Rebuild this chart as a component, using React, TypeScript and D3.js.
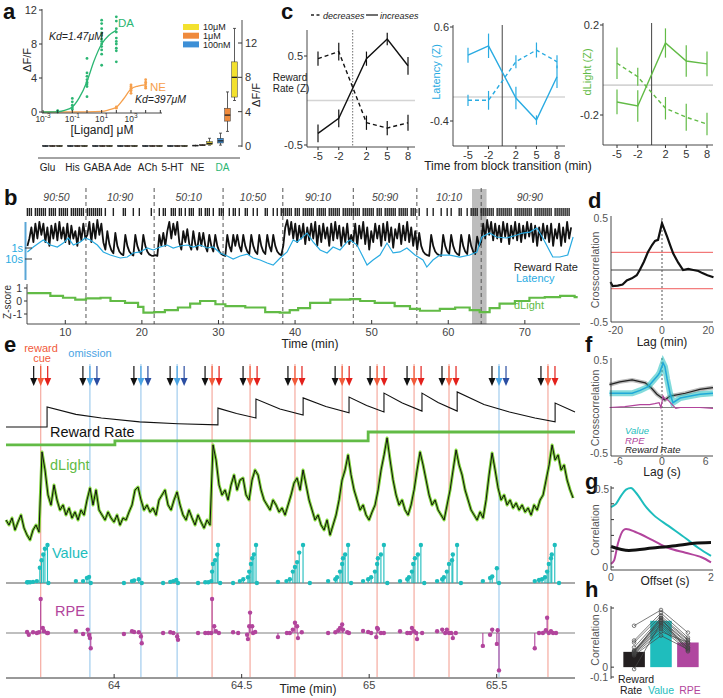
import React from "react";
import * as d3 from "d3";

const FONT = "'Liberation Sans', Arial, Helvetica, sans-serif";
const W = 723;
const H = 698;

// colours
const DA_GREEN = "#2bb673";
const NE_ORANGE = "#f6a04d";
const C10 = "#f3e12e";
const C1 = "#ef8a3c";
const C100 = "#3d8fd6";
const LAT_BLUE = "#29abe2";
const DL_GREEN = "#62bb46";
const CYAN = "#1dbdbd";
const MAGENTA = "#b2449c";
const CUE_RED = "#f15a3a";
const REW_RED = "#e3201b";
const OMIT_BLUE = "#4aa3e3";
const OMIT_DARK = "#2b4ea2";
const LINE_RED = "#f6b1a7";
const LINE_BLUE = "#a8d0ef";

// ---------------- panel a ----------------
const ligands = ["Glu", "His", "GABA", "Ade", "ACh", "5-HT", "NE", "DA"];
// [min, q1, median, q3, max] of dF/F
const box100nM = [
  [-0.1, -0.05, 0, 0.05, 0.1], [-0.1, -0.05, 0, 0.05, 0.1], [-0.1, -0.05, 0, 0.05, 0.1], [-0.1, -0.05, 0, 0.05, 0.1],
  [-0.1, -0.05, 0, 0.05, 0.1], [-0.1, -0.05, 0, 0.05, 0.1], [-0.05, 0, 0.05, 0.1, 0.15], [0.1, 0.35, 0.6, 0.9, 1.5],
];
const box1uM = [
  [-0.1, -0.05, 0, 0.05, 0.1], [-0.1, -0.05, 0, 0.05, 0.1], [-0.1, -0.05, 0, 0.05, 0.1], [-0.1, -0.05, 0, 0.05, 0.1],
  [-0.1, -0.05, 0, 0.05, 0.1], [-0.1, -0.05, 0, 0.05, 0.1], [0, 0.05, 0.1, 0.15, 0.2], [1.7, 2.9, 3.6, 4.4, 6.3],
];
const box10uM = [
  [-0.1, -0.05, 0, 0.05, 0.1], [-0.1, -0.05, 0, 0.05, 0.1], [-0.1, -0.05, 0, 0.05, 0.1], [-0.1, -0.05, 0, 0.05, 0.1],
  [-0.1, -0.05, 0, 0.05, 0.1], [-0.1, -0.05, 0, 0.05, 0.1], [0.1, 0.15, 0.3, 0.5, 0.9], [5.3, 5.7, 8.0, 9.8, 13.7],
];
const legendConc = ["10μM", "1μM", "100nM"];
const daDoses = [0.01, 0.1, 1, 10, 100];
const daResp = [
  [0, 0.05, 0.1, 0.15],
  [0.3, 0.5, 0.8, 1.2, 1.6],
  [1.8, 3.0, 3.3, 3.5, 3.8, 4.2, 4.6, 6.3],
  [5.5, 6.8, 7.3, 7.7, 8.0, 8.3, 8.6, 9.0, 9.3, 9.8, 10.4, 10.8],
  [5.9, 7.2, 7.5, 8.0, 8.3, 8.7, 9.4, 9.8, 10.7, 11.2],
];
const neDoses = [100, 1000, 10000];
const neResp = [[0.45, 0.6], [2.2, 2.5, 2.6, 2.8, 3.0, 3.2], [2.8, 3.0, 3.3, 3.5, 3.8]];
const daFitConc = [1e-3, 1e-2, 3e-2, 0.1, 0.3, 1, 3, 10, 30, 100];
const daFitResp = [0, 0.05, 0.2, 0.6, 1.7, 3.6, 6.0, 8.0, 9.0, 9.6];
const neFitConc = [1e-3, 1, 10, 30, 100, 300, 1000, 3000, 10000];
const neFitResp = [0, 0.02, 0.08, 0.25, 0.55, 1.5, 2.7, 3.05, 3.2];

// ---------------- panel c ----------------
const cTimes = [-5, -2, 2, 5, 8];
const rrIncMean = [-0.37, -0.2, 0.47, 0.69, 0.39];
const rrIncErr = [0.1, 0.1, 0.08, 0.07, 0.1];
const rrDecMean = [0.47, 0.55, -0.25, -0.31, -0.25];
const rrDecErr = [0.08, 0.1, 0.08, 0.08, 0.09];
const latIncMean = [0.3, 0.4, -0.155, -0.39, 0.07];
const latIncErr = [0.08, 0.13, 0.12, 0.05, 0.12];
const latDecMean = [-0.18, -0.18, 0.23, 0.355, 0.23];
const latDecErr = [0.06, 0.1, 0.07, 0.08, 0.07];
const dlIncMean = [-0.142, -0.16, 0.12, 0.04, 0.027];
const dlIncErr = [0.055, 0.07, 0.065, 0.07, 0.055];
const dlDecMean = [0.03, -0.03, -0.17, -0.21, -0.24];
const dlDecErr = [0.07, 0.04, 0.05, 0.06, 0.05];
const cRefLevels = [0, -0.145, -0.067];

// ---------------- panel b ----------------
const BIN_T0 = 5.05;
const BIN_DT = 0.261;
const rasterB =
  "|||.||||||.||||.|||||.|||||||." +
  "||||||||.|...|....||...|..|.....|." +
  "..|.||..|||.||.|.|||..||.|||.|..||" +
  "|..|.||.|..||..|.|...||..|.|.|" +
  "|||||.|||.||||||.|||||.||||||.|||||" +
  "||||.||||||.|||.||||||.|||||.|||" +
  ".|...|..|...|..|.|...||..|.||||." +
  "|||||||.||||||||.|||||||||.|||||||||.||||||||.";
const rewardRateB = [
  0.3, 0.5, 0.8, 0.4, 0.9, 0.5, 0.95, 0.6, 0.9, 0.4, 0.8, 0.3, 0.85, 0.5, 0.9, 0.45, 0.95, 0.5, 0.8, 0.4, 0.9, 0.35, 0.85, 0.5, 0.7, 0.3, 0.8, 0.45, 0.9, 0.5,
  0.6, 0.95, 0.4, 0.9, 0.5, 1.0, 0.6, 0.9, 0.4, 0.2, 0.7, 0.35, 0.18, 0.1, 0.65, 0.3, 0.15, 0.08, 0.05, 0.6, 0.3, 0.15, 0.08, 0.04, 0.6, 0.3, 0.15, 0.08, 0.6, 0.3, 0.15, 0.07, 0.04, 0.03,
  0.05, 0.03, 0.6, 0.3, 0.65, 0.3, 0.7, 0.95, 0.5, 0.9, 0.6, 0.95, 0.4, 0.2, 0.7, 0.4, 0.75, 0.35, 0.2, 0.7, 0.35, 0.2, 0.65, 0.3, 0.65, 0.3, 0.15, 0.6, 0.3, 0.15, 0.6, 0.3, 0.15, 0.08,
  0.05, 0.03, 0.6, 0.3, 0.15, 0.6, 0.3, 0.6, 0.3, 0.15, 0.6, 0.3, 0.15, 0.08, 0.6, 0.3, 0.15, 0.08, 0.6, 0.3, 0.15, 0.08, 0.6, 0.3, 0.15, 0.6, 0.3, 0.15, 0.08, 0.05,
  0.3, 0.8, 1.0, 0.6, 0.95, 0.5, 0.9, 0.4, 0.85, 0.5, 0.9, 0.35, 0.8, 0.45, 0.9, 0.5, 0.95, 0.3, 0.85, 0.4, 0.9, 0.5, 0.8, 0.3, 0.9, 0.45, 0.95, 0.5, 0.85, 0.3, 0.8, 0.4, 0.9, 0.35, 0.6,
  0.4, 0.9, 0.3, 0.85, 0.5, 0.95, 0.35, 0.8, 0.2, 0.7, 0.4, 0.9, 0.5, 0.85, 0.3, 0.9, 0.45, 0.95, 0.4, 0.8, 0.25, 0.75, 0.5, 0.9, 0.35, 0.85, 0.45, 0.95, 0.4, 0.8, 0.3, 0.7,
  0.2, 0.65, 0.3, 0.15, 0.08, 0.05, 0.03, 0.6, 0.3, 0.15, 0.08, 0.05, 0.03, 0.6, 0.3, 0.15, 0.08, 0.6, 0.3, 0.15, 0.08, 0.05, 0.6, 0.3, 0.15, 0.08, 0.6, 0.3, 0.15, 0.08, 0.55, 0.3,
  0.4, 0.9, 0.5, 1.0, 0.6, 0.95, 0.45, 0.9, 0.5, 0.85, 0.4, 0.95, 0.55, 0.9, 0.35, 0.85, 0.5, 0.95, 0.45, 0.9, 0.4, 0.85, 0.5, 0.95, 0.55, 0.9, 0.4, 0.85, 0.3, 0.8, 0.45, 0.9, 0.5, 0.85, 0.4, 0.9, 0.3, 0.75, 0.5, 0.9, 0.3, 0.8, 0.4, 0.95, 0.5, 0.8,
];
// latency, log10 seconds
const latencyBTimes = [
  5.05, 5.83, 6.74, 7.13, 8.05, 8.96, 9.74, 10.4, 11.05, 11.96, 12.6, 13.26, 14.18, 14.96, 15.87, 17.18, 18.09, 18.87, 19.79, 20.7,
  21.48, 22.4, 23.3, 24.09, 25.0, 25.92, 26.7, 27.61, 28.53, 29.31, 30.22, 31.14, 31.92, 32.83, 33.75, 34.53, 35.44, 36.36, 37.14, 38.05,
  38.96, 39.75, 40.27, 41.57, 42.35, 43.27, 44.18, 44.96, 45.87, 46.79, 47.18, 48.09, 49.4, 50.18, 51.09, 52.0, 52.8, 53.7, 54.6, 55.65,
  56.7, 57.2, 58.0, 58.9, 60.2, 61.5, 62.8, 63.74, 64.39, 65.4, 66.3, 67.6, 68.96, 69.74, 70.65, 71.57, 72.35, 73.65, 74.57, 75.6, 76.3,
];
const latencyBLog = [
  0.36, -0.09, -0.55, -0.73, -0.27, -0.09, -0.45, -0.91, -0.27, -0.55, -0.91, -0.73, -0.27, 0.36, 0.64, 0.91, 0.82, 0.45, 0.36, 0,
  0.18, -0.09, -0.27, 0, -0.18, -0.27, -0.09, -0.27, 0, -0.09, 0.45, 0.73, 1.0, 0.73, 0.55, 0.91, 1.09, 1.36, 1.55, 0.91,
  0.36, -0.73, -0.55, -1.36, -0.55, 0.18, 0.45, -0.09, 0.18, -0.55, -0.73, -0.27, 1.55, 1.09, 0.64, -0.45, 0.45, 0.36, 0, 0.64,
  1.09, 1.73, 1.09, 0.64, 0.64, 0.82, 0.64, 0.36, -1.0, -1.36, -1.0, -0.91, -1.18, -1.36, -1.45, -1.82, -0.91, 0.82, 0.82, 0.64, -1.0,
];
const dlightBTimes = [
  5.05, 8.05, 9.7, 11.3, 12.7, 14.6, 15.9, 17.8, 19.5, 20.2, 21.6, 23.0, 24.7, 26.3, 27.6, 29.6, 30.9, 33.5, 36.1, 38.0,
  39.3, 40.4, 41.96, 44.6, 47.2, 48.5, 50.4, 53.0, 55.0, 56.3, 58.9, 60.9, 62.8, 64.1, 65.4, 66.7, 68.7, 70.6, 72.6, 74.6, 76.5,
];
const dlightBZ = [
  0.6, 0.4, 0.25, 0.1, 0.2, 0.25, 0.0, -0.15, -0.45, -0.9, -0.85, -0.7, -0.5, -0.2, 0.0, -0.25, -0.4, -0.5, -0.85, -0.9,
  -0.7, -0.55, -0.15, 0.1, 0.15, 0.0, -0.15, -0.4, -0.6, -0.75, -0.6, -0.5, -0.7, -0.85, -0.55, -0.2, 0.0, 0.25, 0.3, 0.4, 0.3,
];
const blockEdgesB = [12.7, 21.6, 30.6, 38.4, 47.6, 55.9, 64.3];
const blockNamesB = ["90:50", "10:90", "50:10", "10:50", "90:10", "50:90", "10:10", "90:90"];
const shadeB = [63.1, 65.0];
const timeTicksB = [10, 20, 30, 40, 50, 60, 70];

// ---------------- panel d ----------------
const dLag = [-22.2, -21.3, -19.1, -17.0, -15.2, -13.0, -10.9, -9.6, -7.8, -6.1, -4.3, -3.0, -1.7, 0, 2.2, 3.5, 4.8, 7.0, 9.1, 11.3, 13.5, 15.7, 17.4, 19.6, 22.2];
const dCorr = [-0.115, -0.155, -0.15, -0.14, -0.1, -0.08, -0.05, 0, 0.08, 0.17, 0.24, 0.28, 0.29, 0.45, 0.32, 0.24, 0.16, 0.07, 0, 0.01, 0, -0.01, -0.03, -0.05, -0.07];
const dSignif = [0.17, -0.18];

// ---------------- panel e ----------------
const trialTimesE = [63.712, 63.905, 64.105, 64.247, 64.384, 64.533, 64.709, 64.894, 65.031, 65.176, 65.313, 65.509, 65.701];
const trialRewardedE = [true, false, false, false, true, true, true, true, true, true, true, false, true];
// [seconds from trial, model value]
const valueEventsE = [
  [[-3.2, 0.02], [-3, 0.02], [-2.5, 0.02], [-1.8, 0.03], [-0.9, 0.05], [-0.2, 0.4], [0.2, 0.6], [0.6, 0.75], [1.0, 0.9], [1.6, 1.0], [1.8, 0]],
  [[-3.3, 0.05], [-1.6, 0.05], [-0.7, 0.13], [-0.2, 0.16], [0.2, 0]],
  [[-4.0, 0], [-2.1, 0.05], [-1.6, 0.07], [-0.5, 0.1], [0.2, 0]],
  [[-3.3, 0], [-1.6, 0.03], [-0.9, 0.05], [-0.2, 0.08], [0.2, 0]],
  [[-3.3, 0], [-1.6, 0.02], [-0.9, 0.02], [-0.2, 0.05], [0, 0.3], [0.2, 0.5], [0.7, 0.6], [1.2, 0.75], [1.4, 1.0], [1.9, 0]],
  [[-4.0, 0], [-2.4, 0.05], [-1.6, 0.1], [-0.5, 0.15], [-0.2, 0.3], [0.2, 0.5], [0.5, 0.65], [0.9, 0.75], [1.4, 1.0], [1.6, 0]],
  [[-4.0, 0.03], [-2.0, 0.05], [-1.2, 0.1], [-0.5, 0.3], [0, 0.42], [0.5, 0.55], [1.0, 0.8], [1.9, 1.0], [3.5, 0]],
  [[-3.3, 0.05], [-1.6, 0.1], [-1.2, 0.15], [-0.5, 0.3], [0, 0.5], [0.2, 0.65], [0.7, 0.75], [1.4, 1.0], [2.1, 0]],
  [[-3.3, 0.05], [-2.1, 0.1], [-1.4, 0.15], [-0.5, 0.3], [0, 0.5], [0.2, 0.65], [0.9, 0.75], [1.6, 1.0], [2.4, 0]],
  [[-3.3, 0.05], [-1.6, 0.1], [-1.2, 0.15], [-0.5, 0.3], [-0.2, 0.5], [0.2, 0.65], [0.9, 0.75], [1.6, 1.0], [2.4, 0]],
  [[-2.8, 0.05], [-1.6, 0.1], [-1.2, 0.15], [-0.5, 0.3], [0, 0.5], [0.7, 0.6], [0.9, 0.75], [1.9, 1.0], [2.8, 0]],
  [[-3.8, 0.05], [-2.1, 0.13], [-1.6, 0.17], [-0.5, 0.39], [0, 0]],
  [[-3.1, 0.05], [-2.1, 0.08], [-1.4, 0.1], [-0.7, 0.15], [-0.2, 0.3], [0.2, 0.5], [0.7, 0.65], [0.9, 0.75], [1.6, 1.0], [2.6, 0]],
];
const rpeEventsE = [
  [[-3.2, 0.03], [-2.8, -0.05], [-1.8, 0.02], [-0.9, 0], [-0.4, 0.02], [0, 1.0], [0.5, 0.15], [0.8, 0.05], [1.5, 0], [1.7, 0]],
  [[-3.3, 0.05], [-1.6, -0.03], [-0.5, 0.1], [-0.2, -0.06], [0, -0.15], [0.2, -0.45]],
  [[-4.0, -0.03], [-2.1, 0.05], [-1.6, 0.03], [-0.5, 0.02], [0, -0.1], [0.2, -0.3]],
  [[-3.3, 0], [-1.6, 0.02], [-0.9, 0], [0, -0.1], [0.2, -0.2]],
  [[-3.3, 0], [-1.6, 0], [-0.9, 0], [-0.2, 0], [0, 1.0], [0.5, 0.2], [0.9, 0.05], [1.6, 0]],
  [[-4.0, 0.02], [-2.8, 0], [-0.7, -0.05], [-0.5, -0.18], [-0.2, 0.2], [0, 0.6], [0.5, 0.2], [0.7, 0], [1.2, 0.03]],
  [[-4.0, -0.12], [-1.9, 0], [-1.2, 0], [-0.5, 0.1], [0, 0.3], [0.5, 0.2], [0.7, -0.15], [1.6, 0.02]],
  [[-3.3, 0], [-1.6, 0.02], [-0.9, 0.08], [-0.5, 0.15], [0, 0.25], [0.2, 0.1], [1.2, 0.02], [1.6, 0]],
  [[-3.3, 0.06], [-2.1, 0.03], [-1.4, 0], [-0.2, -0.12], [0, 0.15], [0.2, 0.12], [0.9, 0], [1.6, 0]],
  [[-3.3, 0.05], [-1.6, 0], [-0.9, 0], [-0.5, 0.15], [0, 0.05], [0.5, 0], [0.7, -0.18], [1.9, 0]],
  [[-2.8, 0.05], [-1.6, 0.1], [-0.9, 0], [-0.5, 0.1], [0, 0], [0.5, 0], [0.9, -0.15], [1.6, 0]],
  [[-3.8, -0.38], [-2.1, -0.05], [-1.6, 0.1], [-0.5, -0.32], [-0.3, 0.08], [0, -1.1]],
  [[-3.1, -0.45], [-2.1, 0], [-1.2, 0], [-0.5, 0.08], [-0.2, 0.45], [0.2, 0], [0.7, 0.05], [1.2, 0], [1.9, 0]],
];
const rrETimes = [
  63.576, 63.737, 63.737, 63.85, 63.95, 64.1, 64.25, 64.407, 64.407, 64.48, 64.556, 64.556, 64.65, 64.741, 64.741, 64.83, 64.921,
  64.921, 64.99, 65.058, 65.058, 65.13, 65.207, 65.207, 65.27, 65.345, 65.345, 65.45, 65.55, 65.65, 65.729, 65.729, 65.807,
];
const rrEValues = [
  0, 0, 0.67, 0.42, 0.3, 0.17, 0.11, 0.07, 0.63, 0.45, 0.3, 0.93, 0.6, 0.4, 0.97, 0.68, 0.47,
  1.0, 0.72, 0.5, 1.13, 0.8, 0.53, 1.13, 0.82, 0.53, 1.17, 0.75, 0.5, 0.3, 0.17, 0.8, 0.5,
];
const blockTimesE = [63.576, 64.003, 64.996, 65.807];
const blockLevelsE = [0.2, 0.45, 1.0];
const DL_E_T0 = 63.576;
const DL_E_DT = 0.011765;
const dlightE = [
  0.2, 0.15, 0.22, 0.1, 0.18, 0.25, 0.12, 0.05, 0.0, 0.1, 0.15, 0.08,
  0.88, 0.7, 0.45, 0.35, 0.55, 0.4, 0.3, 0.35, 0.25, 0.32,
  0.22, 0.28, 0.2, 0.3, 0.25, 0.4, 0.52, 0.35, 0.5, 0.3,
  0.25, 0.2, 0.28, 0.22, 0.18, 0.25, 0.15, 0.22, 0.2, 0.28,
  0.35, 0.5, 0.53, 0.4, 0.3, 0.35, 0.28, 0.32, 0.25, 0.4,
  0.45, 0.5, 0.35, 0.3, 0.4, 0.48, 0.35, 0.25, 0.2, 0.3,
  0.22, 0.15, 0.25, 0.18, 0.12, 0.2, 0.15, 0.95, 0.8, 0.55,
  0.45, 0.5, 0.4, 0.55, 0.65, 0.5, 0.6, 0.62, 0.45, 0.4,
  0.6, 0.7, 0.65, 0.5, 0.4, 0.35, 0.3, 0.4, 0.35, 0.28,
  0.32, 0.25, 0.35, 0.45, 0.57, 0.62, 0.5, 0.7, 0.55, 0.4,
  0.3, 0.2, 0.25, 0.15, 0.1, 0.2, 0.05, 0.15, 0.25, 0.4,
  0.6, 0.7, 0.85, 0.65, 0.5, 0.4, 0.3, 0.35, 0.25, 0.2,
  0.28, 0.35, 0.5, 0.7, 0.85, 1.02, 0.8, 0.6, 0.45, 0.35,
  0.4, 0.3, 0.25, 0.35, 0.5, 0.7, 0.88, 0.75, 0.6, 0.45,
  0.35, 0.4, 0.3, 0.25, 0.2, 0.35, 0.5, 0.7, 0.9, 0.75,
  0.65, 0.5, 0.4, 0.3, 0.25, 0.2, 0.28, 0.22, 0.4, 0.65,
  0.87, 0.7, 0.52, 0.4, 0.45, 0.35, 0.4, 0.32, 0.37, 0.3,
  0.35, 0.28, 0.32, 0.25, 0.35, 0.3, 0.4, 0.45, 0.6, 0.75,
  0.95, 0.8, 0.85, 0.7, 0.75, 0.6, 0.5, 0.42,
];
const timeTicksE = [64, 64.5, 65, 65.5];

// ---------------- panel f ----------------
const fRRLag = [-7.2, -5.8, -4.1, -2.3, -1.4, -0.7, 0, 0.4, 1.1, 3.2, 5.2, 7.0];
const fRRVal = [0.24, 0.27, 0.29, 0.26, 0.2, 0.14, 0.1, 0.08, 0.12, 0.15, 0.19, 0.21];
const fValueLag = [-7.2, -5.8, -4.1, -3.0, -1.9, -1.0, -0.55, -0.3, 0.15, 0.4, 0.7, 1.1, 1.5, 2.1, 2.5, 3.9, 5.2, 7.0];
const fValueVal = [0.15, 0.15, 0.15, 0.18, 0.22, 0.3, 0.34, 0.37, 0.47, 0.43, 0.3, 0.15, 0.05, 0.08, 0.1, 0.12, 0.14, 0.15];
const fRpeLag = [-7.2, -5.1, -3.0, -1.7, -1.0, -0.4, -0.15, 0.15, 0.4, 0.8, 1.4, 1.9, 2.5, 3.9, 5.2, 7.0];
const fRpeVal = [0.0, 0.01, 0.03, 0.03, 0.04, 0.05, 0.0, 0.12, 0.09, 0.08, 0.03, -0.01, 0.0, 0.0, 0.0, -0.01];

// ---------------- panel g ----------------
const gValueOff = [0, 0.1, 0.2, 0.3, 0.4, 0.5, 0.7, 0.85, 1.15, 1.5, 1.75, 2.0];
const gValueVal = [0.38, 0.4, 0.45, 0.49, 0.5, 0.47, 0.38, 0.33, 0.26, 0.18, 0.12, 0.07];
const gRpeOff = [0, 0.06, 0.14, 0.24, 0.3, 0.5, 0.83, 1.15, 1.49, 1.82, 2.0];
const gRpeVal = [0.02, 0.04, 0.15, 0.23, 0.24, 0.22, 0.17, 0.12, 0.09, 0.06, 0.03];
const gRROff = [0, 0.36, 0.83, 1.29, 1.66, 2.0];
const gRRVal = [0.13, 0.105, 0.12, 0.135, 0.15, 0.155];

// ---------------- panel h ----------------
const hCats = ["Reward Rate", "Value", "RPE"];
const hMeans = [0.155, 0.47, 0.25];
const hSubjRR = [0.42, 0.27, 0.25, 0.2, 0.17, 0.16, 0.16, 0.15, 0.14, 0.14, 0.13, 0.12, -0.02, 0.15];
const hSubjValue = [0.58, 0.55, 0.52, 0.5, 0.48, 0.47, 0.45, 0.43, 0.41, 0.39, 0.36, 0.32, 0.45, 0.5];
const hSubjRPE = [0.35, 0.3, 0.28, 0.27, 0.25, 0.24, 0.22, 0.2, 0.19, 0.17, 0.25, 0.18, 0.2, 0.16];

const Letter = ({ x, y, t }: { x: number; y: number; t: string }) => (
  <text x={x} y={y} fontSize={22} fontWeight="bold" fill="#111">{t}</text>
);

function PanelA() {
  const xI = d3.scaleLog().domain([1e-3, 1.3e5]).range([43, 162]);
  const yI = d3.scaleLinear().domain([0, 12]).range([112, 10]);
  const fit = d3.line<number[]>().x((d) => xI(d[0])).y((d) => yI(d[1])).curve(d3.curveMonotoneX);
  const xL = d3.scaleBand<string>().domain(ligands).range([40, 240]);
  const yB = d3.scaleLinear().domain([0, 12]).range([146, 43]);
  const sets = [box100nM, box1uM, box10uM];
  const setCols = [C100, C1, C10];
  const offs = [-7, 0, 7];
  const legendCols = [C10, C1, C100];
  const decades = d3.range(-3, 6);
  return (
    <g>
      <Letter x={3} y={19} t="a" />
      {/* inset dose response */}
      <path d={fit(neFitConc.map((c, i) => [c, neFitResp[i]])) || ""} fill="none" stroke={NE_ORANGE} strokeWidth={1.3} />
      <path d={fit(daFitConc.map((c, i) => [c, daFitResp[i]])) || ""} fill="none" stroke={DA_GREEN} strokeWidth={1.3} />
      {daDoses.map((c, i) => daResp[i].map((v, j) => (
        <circle key={`da${i}-${j}`} cx={xI(c)} cy={yI(v)} r={1.4} fill={DA_GREEN} />
      )))}
      {neDoses.map((c, i) => neResp[i].map((v, j) => (
        <circle key={`ne${i}-${j}`} cx={xI(c)} cy={yI(v)} r={1.4} fill={NE_ORANGE} />
      )))}
      <line x1={42} x2={42} y1={9} y2={113} stroke="#333" strokeWidth={0.9} />
      <line x1={42} x2={162} y1={113} y2={113} stroke="#333" strokeWidth={0.9} />
      {[0, 4, 8, 12].map((t) => (
        <g key={t}>
          <line x1={39} x2={42} y1={yI(t)} y2={yI(t)} stroke="#333" />
          <text x={37} y={yI(t) + 4} fontSize={11} textAnchor="end" fill="#333">{t}</text>
        </g>
      ))}
      {decades.map((k) => (
        <line key={k} x1={xI(Math.pow(10, k))} x2={xI(Math.pow(10, k))} y1={110} y2={113} stroke="#333" />
      ))}
      {[-3, -1, 1, 3].map((k) => (
        <text key={k} x={xI(Math.pow(10, k))} y={122} fontSize={8.5} textAnchor="middle" fill="#333">
          10<tspan dy={-4} fontSize={6.5}>{k}</tspan>
        </text>
      ))}
      <text x={102} y={134} fontSize={12} textAnchor="middle" fill="#222">[Ligand] μM</text>
      <text transform="translate(31,60) rotate(-90)" fontSize={11} textAnchor="middle" fill="#222">ΔF/F</text>
      <text x={49} y={40} fontSize={10.5} fontStyle="italic" fill="#222">Kd=1.47μM</text>
      <text x={118} y={27} fontSize={11.5} fill={DA_GREEN}>DA</text>
      <text x={150} y={91} fontSize={11.5} fill={NE_ORANGE}>NE</text>
      <text x={135} y={103} fontSize={10.5} fontStyle="italic" fill="#222">Kd=397μM</text>
      {/* legend */}
      {legendConc.map((n, i) => (
        <g key={n}>
          <rect x={183} y={24 + i * 8.7} width={16} height={6} fill={legendCols[i]} />
          <text x={203} y={30.2 + i * 8.7} fontSize={9} fill="#222">{n}</text>
        </g>
      ))}
      {/* boxes */}
      {ligands.map((lig, li) => sets.map((set, ci) => {
        const [mn, q1, md, q3, mx] = set[li];
        const cx = (xL(lig) as number) + xL.bandwidth() / 2 + offs[ci];
        const big = mx - mn > 0.5;
        return (
          <g key={`${lig}${ci}`}>
            <line x1={cx} x2={cx} y1={yB(mn)} y2={yB(mx)} stroke="#333" strokeWidth={0.8} />
            {big && <line x1={cx - 1.5} x2={cx + 1.5} y1={yB(mx)} y2={yB(mx)} stroke="#333" strokeWidth={0.8} />}
            {big && <line x1={cx - 1.5} x2={cx + 1.5} y1={yB(mn)} y2={yB(mn)} stroke="#333" strokeWidth={0.8} />}
            <rect x={cx - 2.8} width={5.6} y={yB(q3)} height={Math.max(0.6, yB(q1) - yB(q3))} fill={setCols[ci]} stroke="#333" strokeWidth={0.5} />
            <line x1={cx - 2.8} x2={cx + 2.8} y1={yB(md)} y2={yB(md)} stroke="#222" strokeWidth={1.3} />
          </g>
        );
      }))}
      <line x1={38} x2={240} y1={158} y2={158} stroke="#333" strokeWidth={0.9} />
      {ligands.map((lig) => (
        <text key={lig} x={(xL(lig) as number) + xL.bandwidth() / 2 - 5} y={171} fontSize={10} textAnchor="middle" fill={lig === "DA" ? DA_GREEN : "#222"}>{lig}</text>
      ))}
      {/* right axis */}
      <line x1={242} x2={242} y1={20} y2={147} stroke="#333" strokeWidth={0.9} />
      {[0, 4, 8, 12].map((t) => (
        <g key={t}>
          <line x1={238} x2={242} y1={yB(t)} y2={yB(t)} stroke="#333" />
          <text x={245} y={yB(t) + 4} fontSize={11} fill="#333">{t}</text>
        </g>
      ))}
      <text transform="translate(260,95) rotate(-90)" fontSize={11} textAnchor="middle" fill="#222">ΔF/F</text>
    </g>
  );
}

type CProps = {
  xr: [number, number];
  yDom: [number, number];
  yRng: [number, number];
  ax: number;
  top: number;
  bottom: number;
  xEnd: number;
  ticks: number[];
  inc: number[];
  incE: number[];
  dec: number[];
  decE: number[];
  color: string;
  ref: number;
  dottedV: boolean;
};

function CPlot(p: CProps) {
  const x = d3.scaleLinear().domain([-5, 8]).range(p.xr);
  const y = d3.scaleLinear().domain(p.yDom).range(p.yRng);
  const line = d3.line<number>().x((_, i) => x(cTimes[i])).y((d) => y(d));
  return (
    <g>
      <line x1={p.ax} x2={p.xEnd} y1={y(p.ref)} y2={y(p.ref)} stroke="#d4d4d4" strokeWidth={1.6} />
      <line x1={x(0)} x2={x(0)} y1={p.top} y2={p.bottom} stroke={p.dottedV ? "#888" : "#444"} strokeWidth={p.dottedV ? 1.2 : 1} strokeDasharray={p.dottedV ? "1.5,1.5" : undefined} />
      <path d={line(p.dec) || ""} fill="none" stroke={p.color} strokeWidth={1.4} strokeDasharray="4,3" />
      <path d={line(p.inc) || ""} fill="none" stroke={p.color} strokeWidth={1.4} />
      {cTimes.map((t, i) => (
        <g key={t}>
          <line x1={x(t)} x2={x(t)} y1={y(p.inc[i] - p.incE[i])} y2={y(p.inc[i] + p.incE[i])} stroke={p.color} strokeWidth={1.2} />
          <line x1={x(t)} x2={x(t)} y1={y(p.dec[i] - p.decE[i])} y2={y(p.dec[i] + p.decE[i])} stroke={p.color} strokeWidth={1.2} />
        </g>
      ))}
      <line x1={p.ax} x2={p.ax} y1={p.top} y2={p.bottom} stroke="#333" strokeWidth={0.9} />
      <line x1={p.ax} x2={p.xEnd} y1={p.bottom} y2={p.bottom} stroke="#333" strokeWidth={0.9} />
      {p.ticks.map((t) => (
        <g key={t}>
          <line x1={p.ax - 3} x2={p.ax} y1={y(t)} y2={y(t)} stroke="#333" />
          <text x={p.ax - 4} y={y(t) + 4} fontSize={11} textAnchor="end" fill="#333">{t}</text>
        </g>
      ))}
      {cTimes.map((t) => (
        <g key={t}>
          <line x1={x(t)} x2={x(t)} y1={p.bottom} y2={p.bottom + 3} stroke="#333" />
          <text x={x(t)} y={p.bottom + 13} fontSize={11} textAnchor="middle" fill="#333">{t}</text>
        </g>
      ))}
    </g>
  );
}

function PanelC() {
  return (
    <g>
      <Letter x={281} y={19} t="c" />
      <line x1={311} x2={321} y1={15} y2={15} stroke="#222" strokeWidth={1.3} strokeDasharray="3,2.5" />
      <text x={323} y={18.5} fontSize={9} fontStyle="italic" fill="#222">decreases</text>
      <line x1={366} x2={378} y1={15} y2={15} stroke="#222" strokeWidth={1.3} />
      <text x={380} y={18.5} fontSize={9} fontStyle="italic" fill="#222">increases</text>
      <CPlot xr={[318, 408]} yDom={[-0.5, 0.5]} yRng={[145, 56]} ax={307} top={30} bottom={147} xEnd={415} ticks={[-0.5, 0.5]}
        inc={rrIncMean} incE={rrIncErr} dec={rrDecMean} decE={rrDecErr} color="#111" ref={cRefLevels[0]} dottedV={true} />
      <text x={290} y={81} fontSize={10} textAnchor="middle" fill="#222">Reward</text>
      <text x={291} y={92} fontSize={10} textAnchor="middle" fill="#222">Rate (Z)</text>
      <CPlot xr={[468, 557]} yDom={[-0.4, 0.6]} yRng={[121, 27]} ax={453} top={25} bottom={146} xEnd={565} ticks={[-0.4, 0.6]}
        inc={latIncMean} incE={latIncErr} dec={latDecMean} decE={latDecErr} color={LAT_BLUE} ref={cRefLevels[1]} dottedV={false} />
      <text transform="translate(440,72) rotate(-90)" fontSize={11} textAnchor="middle" fill={LAT_BLUE}>Latency (Z)</text>
      <CPlot xr={[617, 707]} yDom={[-0.2, 0.2]} yRng={[115, 25]} ax={603} top={23} bottom={145} xEnd={713} ticks={[-0.2, 0.2]}
        inc={dlIncMean} incE={dlIncErr} dec={dlDecMean} decE={dlDecErr} color={DL_GREEN} ref={cRefLevels[2]} dottedV={false} />
      <text transform="translate(591,72) rotate(-90)" fontSize={11} textAnchor="middle" fill={DL_GREEN}>dLight (Z)</text>
      <text x={508} y={170} fontSize={12} textAnchor="middle" fill="#222">Time from block transition (min)</text>
    </g>
  );
}

function PanelB() {
  const x = d3.scaleLinear().domain([5, 77.2]).range([27, 580]);
  const yRR = d3.scaleLinear().domain([0, 1]).range([257, 220]);
  const yLat = d3.scaleLinear().domain([0, 1]).range([248, 259]);
  const yZ = d3.scaleLinear().domain([-1, 1]).range([314, 288]);
  const rrLine = d3.line<number>().x((_, i) => x(BIN_T0 + i * BIN_DT)).y((d) => yRR(d));
  const latLine = d3.line<number>().x((_, i) => x(latencyBTimes[i])).y((d) => yLat(d));
  const dlPts = dlightBTimes.map((t, i) => [t, dlightBZ[i]]).concat([[76.9, dlightBZ[dlightBZ.length - 1]]]);
  const dlLine = d3.line<number[]>().x((d) => x(d[0])).y((d) => yZ(d[1])).curve(d3.curveStepAfter);
  const starts = [5].concat(blockEdgesB);
  const ends = blockEdgesB.concat([77]);
  return (
    <g>
      <Letter x={4} y={205} t="b" />
      <rect x={x(shadeB[0])} width={x(shadeB[1]) - x(shadeB[0])} y={189} height={135} fill="#bdbdbd" />
      {blockEdgesB.map((t) => (
        <line key={t} x1={x(t)} x2={x(t)} y1={188} y2={324} stroke="#555" strokeWidth={1} strokeDasharray="4,3" />
      ))}
      {blockNamesB.map((n, i) => (
        <text key={n + i} x={x((starts[i] + ends[i]) / 2)} y={201} fontSize={10.5} fontStyle="italic" textAnchor="middle" fill="#444">{n}</text>
      ))}
      {rasterB.split("").map((c, i) => c === "|" ? (
        <line key={i} x1={x(BIN_T0 + i * BIN_DT)} x2={x(BIN_T0 + i * BIN_DT)} y1={208} y2={216} stroke="#222" strokeWidth={1.4} />
      ) : null)}
      <path d={rrLine(rewardRateB) || ""} fill="none" stroke="#111" strokeWidth={1.8} strokeLinejoin="round" />
      <path d={latLine(latencyBLog) || ""} fill="none" stroke={LAT_BLUE} strokeWidth={1.2} />
      <path d={dlLine(dlPts) || ""} fill="none" stroke={DL_GREEN} strokeWidth={2.2} />
      {/* latency scale bar */}
      <line x1={25.5} x2={25.5} y1={222} y2={280} stroke="#5aa6d6" strokeWidth={2} />
      {[0, 1].map((v) => (
        <line key={v} x1={25} x2={32} y1={yLat(v)} y2={yLat(v)} stroke="#333" strokeWidth={1} />
      ))}
      <text x={23} y={252} fontSize={11} textAnchor="end" fill={LAT_BLUE}>1s</text>
      <text x={23} y={263} fontSize={11} textAnchor="end" fill={LAT_BLUE}>10s</text>
      {/* z axis */}
      <line x1={27} x2={27} y1={284} y2={324} stroke="#333" strokeWidth={0.9} />
      {[1, 0, -1].map((v) => (
        <g key={v}>
          <line x1={24} x2={27} y1={yZ(v)} y2={yZ(v)} stroke="#333" />
          <text x={22} y={yZ(v) + 4} fontSize={10.5} textAnchor="end" fill="#333">{v}</text>
        </g>
      ))}
      <text transform="translate(11,302) rotate(-90)" fontSize={10} textAnchor="middle" fill="#333">Z-score</text>
      <line x1={27} x2={580} y1={324} y2={324} stroke="#333" strokeWidth={0.9} />
      {timeTicksB.map((t) => (
        <g key={t}>
          <line x1={x(t)} x2={x(t)} y1={320} y2={324} stroke="#333" />
          <text x={x(t)} y={336} fontSize={11} textAnchor="middle" fill="#444">{t}</text>
        </g>
      ))}
      <text x={310} y={348} fontSize={12} textAnchor="middle" fill="#222">Time (min)</text>
      <text x={578} y={271} fontSize={11} textAnchor="end" fill="#222">Reward Rate</text>
      <text x={516} y={282} fontSize={11} fill={LAT_BLUE}>Latency</text>
      <text x={514} y={309} fontSize={11} fill={DL_GREEN}>dLight</text>
    </g>
  );
}

function PanelD() {
  const x = d3.scaleLinear().domain([-22, 22]).range([611, 713]);
  const y = d3.scaleLinear().domain([-0.5, 0.5]).range([322, 218]);
  const line = d3.line<number>().x((_, i) => x(dLag[i])).y((d) => y(d));
  return (
    <g>
      <Letter x={588} y={208} t="d" />
      {dSignif.map((s) => (
        <line key={s} x1={611} x2={713} y1={y(s)} y2={y(s)} stroke="#f05a5a" strokeWidth={1} />
      ))}
      <line x1={611} x2={713} y1={y(0)} y2={y(0)} stroke="#444" strokeWidth={1} />
      <line x1={x(0)} x2={x(0)} y1={218} y2={322} stroke="#555" strokeDasharray="2,2" />
      <path d={line(dCorr) || ""} fill="none" stroke="#111" strokeWidth={2.2} />
      <line x1={611} x2={611} y1={216} y2={322} stroke="#333" strokeWidth={0.9} />
      <line x1={611} x2={713} y1={322} y2={322} stroke="#333" strokeWidth={0.9} />
      <text x={608} y={222} fontSize={10.5} textAnchor="end" fill="#555">0.5</text>
      <text x={608} y={326} fontSize={10.5} textAnchor="end" fill="#555">-0.5</text>
      {[-20, 0, 20].map((t) => (
        <text key={t} x={x(t)} y={334} fontSize={10.5} textAnchor="middle" fill="#555">{t}</text>
      ))}
      <text x={662} y={346} fontSize={12} textAnchor="middle" fill="#222">Lag (min)</text>
      <text transform="translate(599,270) rotate(-90)" fontSize={10.5} textAnchor="middle" fill="#555">Crosscorrelation</text>
    </g>
  );
}

function Arrow({ x, color }: { x: number; color: string }) {
  return (
    <g>
      <line x1={x} x2={x} y1={366} y2={380} stroke={color} strokeWidth={1.2} />
      <path d={`M${x - 3.5},378 L${x + 3.5},378 L${x},386 Z`} fill={color} />
    </g>
  );
}

function PanelE() {
  const x = d3.scaleLinear().domain([63.576, 65.807]).range([6, 575]);
  const yRR = d3.scaleLinear().domain([0, 1.2]).range([427, 391]);
  const yBlk = d3.scaleLinear().domain([0, 1]).range([448, 432]);
  const yDL = d3.scaleLinear().domain([0, 1]).range([540, 440]);
  const yV = d3.scaleLinear().domain([0, 1]).range([583, 545]);
  const yP = d3.scaleLinear().domain([-1, 1]).range([667, 599]);
  const rrLine = d3.line<number>().x((_, i) => x(rrETimes[i])).y((d) => yRR(d));
  const blkPts = blockLevelsE.map((v, i) => [blockTimesE[i], v]).concat([[blockTimesE[3], blockLevelsE[2]]]);
  const blkLine = d3.line<number[]>().x((d) => x(d[0])).y((d) => yBlk(d[1])).curve(d3.curveStepAfter);
  const dlLine = d3.line<number>().x((_, i) => x(DL_E_T0 + i * DL_E_DT)).y((d) => yDL(d));
  const dOff = 0.0275;
  return (
    <g>
      <Letter x={4} y={352} t="e" />
      <text x={41} y={352} fontSize={11} textAnchor="middle" fill={CUE_RED}>reward</text>
      <text x={42} y={362} fontSize={11} textAnchor="middle" fill={CUE_RED}>cue</text>
      <text x={90} y={357} fontSize={11} textAnchor="middle" fill={OMIT_BLUE}>omission</text>
      {trialTimesE.map((t, i) => (
        <line key={t} x1={x(t)} x2={x(t)} y1={364} y2={677} stroke={trialRewardedE[i] ? LINE_RED : LINE_BLUE} strokeWidth={1.3} />
      ))}
      {trialTimesE.map((t, i) => (
        <g key={t}>
          <Arrow x={x(t - dOff)} color="#111" />
          <Arrow x={x(t)} color={trialRewardedE[i] ? CUE_RED : OMIT_BLUE} />
          <Arrow x={x(t + dOff)} color={trialRewardedE[i] ? REW_RED : OMIT_DARK} />
        </g>
      ))}
      <path d={rrLine(rrEValues) || ""} fill="none" stroke="#111" strokeWidth={1.1} />
      <text x={50} y={437} fontSize={14.5} fill="#111">Reward Rate</text>
      <path d={blkLine(blkPts) || ""} fill="none" stroke={DL_GREEN} strokeWidth={2.8} />
      <text x={50} y={470} fontSize={14.5} fill={DL_GREEN}>dLight</text>
      <path d={dlLine(dlightE) || ""} fill="none" stroke="#7fd13b" strokeWidth={3} strokeLinejoin="round" />
      <path d={dlLine(dlightE) || ""} fill="none" stroke="#111" strokeWidth={1} />
      {/* value */}
      <line x1={6} x2={575} y1={yV(0)} y2={yV(0)} stroke="#555" strokeWidth={1} />
      {valueEventsE.map((evs, ti) => evs.map((e, j) => {
        const ex = x(trialTimesE[ti] + e[0] / 60);
        return (
          <g key={`v${ti}-${j}`}>
            <line x1={ex} x2={ex} y1={yV(0)} y2={yV(e[1])} stroke={CYAN} strokeWidth={1.1} />
            <circle cx={ex} cy={yV(e[1])} r={2.2} fill={CYAN} />
          </g>
        );
      }))}
      <text x={52} y={558} fontSize={14.5} fill={CYAN}>Value</text>
      {/* rpe */}
      <line x1={6} x2={575} y1={yP(0)} y2={yP(0)} stroke="#aaa" strokeWidth={1.5} />
      {rpeEventsE.map((evs, ti) => evs.map((e, j) => {
        const ex = x(trialTimesE[ti] + e[0] / 60);
        return (
          <g key={`p${ti}-${j}`}>
            <line x1={ex} x2={ex} y1={yP(0)} y2={yP(e[1])} stroke={MAGENTA} strokeWidth={1.1} />
            <circle cx={ex} cy={yP(e[1])} r={2.2} fill={MAGENTA} />
          </g>
        );
      }))}
      <text x={55} y={616} fontSize={14.5} fill={MAGENTA}>RPE</text>
      <line x1={6} x2={575} y1={678} y2={678} stroke="#333" strokeWidth={1} />
      {timeTicksE.map((t) => (
        <g key={t}>
          <line x1={x(t)} x2={x(t)} y1={674} y2={678} stroke="#333" />
          <text x={x(t)} y={689} fontSize={11} textAnchor="middle" fill="#444">{t}</text>
        </g>
      ))}
      <text x={308} y={693} fontSize={12} textAnchor="middle" fill="#222">Time (min)</text>
    </g>
  );
}

function PanelF() {
  const x = d3.scaleLinear().domain([-7, 7]).range([611, 713]);
  const y = d3.scaleLinear().domain([-0.5, 0.5]).range([455, 360]);
  const mk = (lags: number[]) => d3.line<number>().x((_, i) => x(lags[i])).y((d) => y(d));
  return (
    <g>
      <Letter x={585} y={352} t="f" />
      <line x1={611} x2={713} y1={y(0)} y2={y(0)} stroke="#666" strokeWidth={0.8} />
      <line x1={x(0)} x2={x(0)} y1={358} y2={455} stroke="#555" strokeDasharray="2,2" />
      <path d={mk(fRRLag)(fRRVal) || ""} fill="none" stroke="#bbb" strokeWidth={4} />
      <path d={mk(fRRLag)(fRRVal) || ""} fill="none" stroke="#222" strokeWidth={1.2} />
      <path d={mk(fValueLag)(fValueVal) || ""} fill="none" stroke={CYAN} strokeOpacity={0.55} strokeWidth={6} />
      <path d={mk(fValueLag)(fValueVal) || ""} fill="none" stroke="#1fa9d9" strokeWidth={1.5} />
      <path d={mk(fRpeLag)(fRpeVal) || ""} fill="none" stroke={MAGENTA} strokeWidth={1.2} />
      <line x1={611} x2={611} y1={358} y2={456} stroke="#333" strokeWidth={0.9} />
      <line x1={611} x2={713} y1={456} y2={456} stroke="#333" strokeWidth={0.9} />
      <text x={608} y={364} fontSize={10.5} textAnchor="end" fill="#555">0.5</text>
      <text x={608} y={457} fontSize={10.5} textAnchor="end" fill="#555">-0.5</text>
      {[-6, 0, 6].map((t) => (
        <text key={t} x={x(t)} y={465} fontSize={10.5} textAnchor="middle" fill="#555">{t}</text>
      ))}
      <text x={662} y={476} fontSize={12} textAnchor="middle" fill="#222">Lag (s)</text>
      <text transform="translate(599,408) rotate(-90)" fontSize={10.5} textAnchor="middle" fill="#555">Crosscorrelation</text>
      <text x={625} y={434} fontSize={9.5} fontStyle="italic" fill={CYAN}>Value</text>
      <text x={625} y={443.5} fontSize={9.5} fontStyle="italic" fill={MAGENTA}>RPE</text>
      <text x={625} y={453} fontSize={9.5} fontStyle="italic" fill="#222">Reward Rate</text>
    </g>
  );
}

function PanelG() {
  const x = d3.scaleLinear().domain([0, 2]).range([611, 711]);
  const y = d3.scaleLinear().domain([0, 0.5]).range([567, 488]);
  const mk = (offs: number[]) => d3.line<number>().x((_, i) => x(offs[i])).y((d) => y(d)).curve(d3.curveMonotoneX);
  return (
    <g>
      <Letter x={585} y={489} t="g" />
      <path d={mk(gValueOff)(gValueVal) || ""} fill="none" stroke={CYAN} strokeWidth={2} />
      <path d={mk(gRpeOff)(gRpeVal) || ""} fill="none" stroke={MAGENTA} strokeWidth={2} />
      <path d={mk(gRROff)(gRRVal) || ""} fill="none" stroke="#111" strokeWidth={3} />
      <line x1={611} x2={611} y1={486} y2={570} stroke="#333" strokeWidth={0.9} />
      <line x1={611} x2={713} y1={570} y2={570} stroke="#333" strokeWidth={0.9} />
      {[0, 0.1, 0.2, 0.3, 0.4, 0.5].map((t) => (
        <line key={t} x1={611} x2={614} y1={y(t)} y2={y(t)} stroke="#333" />
      ))}
      <text x={609} y={493} fontSize={10} textAnchor="end" fill="#555">0.5</text>
      <text x={608} y={571} fontSize={10.5} textAnchor="end" fill="#555">0</text>
      <text x={611} y={581} fontSize={10.5} textAnchor="middle" fill="#555">0</text>
      <text x={711} y={581} fontSize={10.5} textAnchor="middle" fill="#555">2</text>
      <text x={665} y={585} fontSize={12} textAnchor="middle" fill="#222">Offset (s)</text>
      <text transform="translate(599,530) rotate(-90)" fontSize={10.5} textAnchor="middle" fill="#555">Correlation</text>
    </g>
  );
}

function PanelH() {
  const x = d3.scaleBand<string>().domain(hCats).range([622, 700]).paddingInner(0.2).paddingOuter(0.05);
  const y = d3.scaleLinear().domain([-0.1, 0.6]).range([677, 608]);
  const cols = ["#231f20", "#1fbdbd", "#b0479f"];
  const cx = (i: number) => (x(hCats[i]) as number) + x.bandwidth() / 2;
  const subjLine = d3.line<number>().x((_, i) => cx(i)).y((d) => y(d));
  return (
    <g>
      <Letter x={585} y={597} t="h" />
      {hCats.map((c, i) => (
        <rect key={c} x={x(c)} width={x.bandwidth()} y={y(hMeans[i])} height={y(0) - y(hMeans[i])} fill={cols[i]} />
      ))}
      {hSubjRR.map((v, s) => {
        const pts = [v, hSubjValue[s], hSubjRPE[s]];
        return (
          <g key={s}>
            <path d={subjLine(pts) || ""} fill="none" stroke="#444" strokeWidth={0.7} />
            {pts.map((p, i) => (
              <circle key={i} cx={cx(i)} cy={y(p)} r={1.8} fill="none" stroke="#444" strokeWidth={0.7} />
            ))}
          </g>
        );
      })}
      <line x1={611} x2={611} y1={606} y2={679} stroke="#333" strokeWidth={0.9} />
      {[0.6, 0, -0.1].map((t) => (
        <g key={t}>
          <line x1={611} x2={614} y1={y(t)} y2={y(t)} stroke="#333" />
          <text x={608} y={y(t) + 4} fontSize={10.5} textAnchor="end" fill="#555">{t}</text>
        </g>
      ))}
      <text transform="translate(599,640) rotate(-90)" fontSize={10.5} textAnchor="middle" fill="#555">Correlation</text>
      <text x={636} y={683} fontSize={10.5} textAnchor="middle" fill="#222">Reward</text>
      <text x={631} y={694} fontSize={10.5} textAnchor="middle" fill="#222">Rate</text>
      <text x={661} y={694} fontSize={10.5} textAnchor="middle" fill={CYAN}>Value</text>
      <text x={690} y={694} fontSize={10.5} textAnchor="middle" fill={MAGENTA}>RPE</text>
    </g>
  );
}

export default function App() {
  return (
    <svg width={W} height={H} style={{ position: "absolute", left: 0, top: 0, background: "#fff" }} fontFamily={FONT}>
      <rect width={W} height={H} fill="#fff" />
      <PanelA />
      <PanelC />
      <PanelB />
      <PanelD />
      <PanelE />
      <PanelF />
      <PanelG />
      <PanelH />
    </svg>
  );
}
